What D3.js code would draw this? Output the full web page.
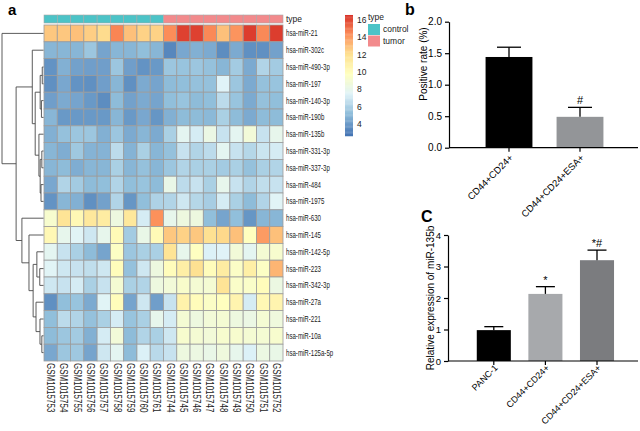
<!DOCTYPE html>
<html>
<head>
<meta charset="utf-8">
<script src="https://cdn.jsdelivr.net/npm/d3@7/dist/d3.min.js"></script>
<style>
  body { margin: 0; background: #fff; }
  svg text { font-family: "Liberation Sans", Arial, sans-serif; }
</style>
</head>
<body>
<div id="figure"></div>
<script>
// ---- panel a: heatmap data (rows in dendrogram order) ----
var genes = ["hsa-miR-21", "hsa-miR-302c", "hsa-miR-490-3p", "hsa-miR-197", "hsa-miR-140-3p",
  "hsa-miR-190b", "hsa-miR-135b", "hsa-miR-331-3p", "hsa-miR-337-3p", "hsa-miR-484",
  "hsa-miR-1975", "hsa-miR-630", "hsa-miR-145", "hsa-miR-142-5p", "hsa-miR-223",
  "hsa-miR-342-3p", "hsa-miR-27a", "hsa-miR-221", "hsa-miR-10a", "hsa-miR-125a-5p"];
var samples = ["GSM1015753", "GSM1015754", "GSM1015755", "GSM1015756", "GSM1015757",
  "GSM1015758", "GSM1015759", "GSM1015760", "GSM1015761", "GSM1015744", "GSM1015745",
  "GSM1015746", "GSM1015747", "GSM1015748", "GSM1015749", "GSM1015750", "GSM1015751", "GSM1015752"];
var sampleTypes = ["control", "control", "control", "control", "control", "control", "control", "control", "control",
  "tumor", "tumor", "tumor", "tumor", "tumor", "tumor", "tumor", "tumor", "tumor"];
var typeNames = ["control", "tumor"];
var legendTicks = [4, 6, 8, 10, 12, 14, 16];

// one row per gene, one value per sample
var expression = [
  [12.8, 12.8, 13.0, 12.6, 12.2, 14.6, 13.0, 12.5, 12.5, 14.4, 16.2, 16.2, 14.5, 13.0, 14.2, 16.3, 14.5, 16.3],
  [5.0, 5.0, 5.0, 5.6, 4.4, 5.0, 5.0, 5.3, 5.0, 3.4, 4.5, 4.8, 4.6, 3.6, 4.6, 3.7, 3.7, 4.3],
  [3.8, 4.8, 4.3, 4.2, 4.2, 5.6, 4.2, 3.8, 4.0, 5.6, 5.5, 5.6, 5.4, 5.0, 5.8, 4.6, 6.2, 5.8],
  [3.7, 4.5, 3.8, 3.7, 4.2, 5.0, 3.7, 4.6, 4.4, 5.2, 5.3, 5.4, 5.4, 7.5, 5.6, 4.6, 5.4, 5.5],
  [4.2, 4.6, 4.4, 4.0, 3.6, 5.2, 4.3, 4.6, 4.4, 5.3, 5.5, 5.2, 5.3, 6.5, 5.5, 4.6, 5.4, 5.3],
  [5.0, 4.0, 4.0, 4.0, 4.0, 5.0, 4.0, 4.5, 3.9, 4.8, 5.2, 5.2, 5.1, 6.0, 5.2, 4.6, 5.2, 5.2],
  [4.8, 5.4, 5.6, 5.6, 4.8, 5.6, 4.6, 5.0, 4.6, 6.0, 7.8, 7.2, 8.3, 6.8, 7.8, 8.8, 6.8, 8.0],
  [5.0, 4.7, 5.7, 4.9, 4.9, 6.5, 4.9, 6.0, 5.0, 5.4, 6.8, 6.2, 6.5, 7.8, 6.8, 6.3, 6.9, 7.2],
  [5.0, 5.2, 4.7, 5.0, 5.0, 6.0, 5.0, 5.4, 5.0, 5.6, 6.2, 6.0, 6.0, 5.8, 6.0, 5.4, 6.0, 6.2],
  [4.5, 6.2, 5.8, 5.2, 5.3, 6.2, 5.3, 5.5, 5.2, 8.2, 6.5, 6.8, 6.0, 8.0, 6.8, 6.2, 6.6, 6.8],
  [3.8, 5.0, 4.8, 3.7, 4.3, 6.2, 3.9, 5.3, 6.1, 6.2, 7.0, 6.3, 5.9, 7.2, 6.0, 5.2, 6.2, 7.6],
  [9.2, 11.8, 10.3, 11.5, 11.2, 8.5, 11.5, 7.2, 14.3, 8.0, 8.5, 8.5, 5.3, 4.4, 5.3, 3.9, 5.0, 5.0],
  [10.3, 8.0, 7.6, 7.0, 8.0, 10.2, 5.8, 8.2, 10.2, 12.8, 12.5, 12.8, 12.0, 12.3, 13.0, 9.8, 14.0, 13.0],
  [7.8, 6.8, 6.0, 5.2, 4.4, 9.6, 5.6, 6.0, 6.0, 11.8, 8.0, 9.7, 7.4, 7.5, 8.8, 7.8, 9.0, 9.2],
  [7.6, 7.0, 6.8, 6.6, 7.0, 10.0, 5.4, 7.0, 8.5, 10.0, 11.0, 12.0, 10.0, 11.2, 9.5, 11.0, 9.6, 13.3],
  [7.0, 6.8, 7.2, 6.0, 6.8, 9.0, 6.0, 6.2, 8.5, 8.8, 9.3, 9.0, 9.0, 11.8, 9.4, 9.4, 10.0, 8.4],
  [3.7, 5.3, 5.5, 4.6, 7.6, 10.0, 4.4, 7.0, 4.2, 6.8, 10.8, 10.0, 9.5, 9.8, 10.6, 7.2, 10.3, 10.6],
  [5.3, 6.5, 6.2, 5.4, 6.0, 7.2, 5.5, 6.0, 8.0, 7.2, 9.0, 8.5, 8.8, 9.0, 8.5, 8.3, 9.0, 8.6],
  [5.2, 5.6, 5.8, 4.8, 7.2, 8.8, 5.2, 6.2, 6.0, 7.0, 9.2, 9.0, 8.8, 9.2, 9.2, 9.0, 9.0, 9.2],
  [4.5, 5.6, 5.7, 4.4, 7.0, 7.8, 5.2, 7.4, 6.4, 6.8, 8.5, 8.4, 8.2, 8.6, 8.0, 7.4, 8.4, 8.2]
];

// row clustering: h = merge height, c = children (leaves are gene names)
var rowTree = {h: 10, c: [
  "hsa-miR-21",
  {h: 6.6, c: [
    {h: 2.7, c: [
      "hsa-miR-302c",
      {h: 2.0, c: [
        {h: 0.8, c: [
          {h: 0.3, c: ["hsa-miR-490-3p", "hsa-miR-197"]},
          {h: 0.5, c: ["hsa-miR-140-3p", "hsa-miR-190b"]}
        ]},
        {h: 1.1, c: [
          "hsa-miR-135b",
          {h: 0.8, c: [
            {h: 0.4, c: ["hsa-miR-331-3p", "hsa-miR-337-3p"]},
            {h: 0.6, c: ["hsa-miR-484", "hsa-miR-1975"]}
          ]}
        ]}
      ]}
    ]},
    {h: 5.2, c: [
      "hsa-miR-630",
      {h: 3.5, c: [
        "hsa-miR-145",
        {h: 2.5, c: [
          {h: 1.6, c: ["hsa-miR-142-5p", {h: 0.9, c: ["hsa-miR-223", "hsa-miR-342-3p"]}]},
          {h: 1.8, c: ["hsa-miR-27a",
            {h: 0.85, c: ["hsa-miR-221", {h: 0.4, c: ["hsa-miR-10a", "hsa-miR-125a-5p"]}]}]}
        ]}
      ]}
    ]}
  ]}
]};

// ---- panel b ----
var bGroups = ["CD44+CD24+", "CD44+CD24+ESA+"];
var bMeans = [1.44, 0.49];
var bErrors = [0.155, 0.15];
var bMarks = ["", "#"];
var bTicks = [0, 0.5, 1.0, 1.5, 2.0];

// ---- panel c ----
var cGroups = ["PANC-1", "CD44+CD24+", "CD44+CD24+ESA+"];
var cMeans = [0.98, 2.13, 3.2];
var cErrors = [0.11, 0.23, 0.32];
var cMarks = ["", "*", "*#"];
var cTicks = [0, 1, 2, 3, 4];

var svg = d3.select("#figure").append("svg")
  .attr("width", 640)
  .attr("height", 431);

// ================= heatmap =================
var hm = {left: 44, right: 283, top: 25, bottom: 361, annTop: 15, annBottom: 23};
var palette = ["#4575B4", "#91BFDB", "#E0F3F8", "#FFFFBF", "#FEE090", "#FC8D59", "#D73027"];
var color = d3.scaleLinear()
  .domain([2.8, 5.3, 7.5, 9.8, 12.1, 14.4, 16.6])
  .range(palette)
  .clamp(true);
var typeColor = d3.scaleOrdinal().domain(typeNames).range(["#4CC3C7", "#F28A8C"]);

var xHm = d3.scaleBand().domain(samples).range([hm.left, hm.right]);
var yHm = d3.scaleBand().domain(genes).range([hm.top, hm.bottom]);

var cells = [];
genes.forEach(function (g, i) {
  samples.forEach(function (s, j) {
    cells.push({gene: g, sample: s, value: expression[i][j]});
  });
});

svg.append("g").selectAll("rect")
  .data(cells)
  .join("rect")
  .attr("x", d => xHm(d.sample))
  .attr("y", d => yHm(d.gene))
  .attr("width", xHm.bandwidth())
  .attr("height", yHm.bandwidth())
  .attr("fill", d => color(d.value))
  .attr("stroke", "#9c9c9c")
  .attr("stroke-width", 0.8);

// type annotation bar
svg.append("g").selectAll("rect")
  .data(samples)
  .join("rect")
  .attr("x", d => xHm(d))
  .attr("y", hm.annTop)
  .attr("width", xHm.bandwidth())
  .attr("height", hm.annBottom - hm.annTop)
  .attr("fill", (d, i) => typeColor(sampleTypes[i]))
  .attr("stroke", "#a8a8a8")
  .attr("stroke-width", 0.6);

svg.append("text")
  .attr("x", 286)
  .attr("y", 19)
  .attr("dy", "0.35em")
  .attr("font-size", "8.5px")
  .attr("fill", "#222")
  .text("type");

// row labels (narrow type)
var rowLab = svg.append("g").attr("transform", "translate(286,0) scale(0.72,1)");
rowLab.selectAll("text")
  .data(genes)
  .join("text")
  .attr("x", 0)
  .attr("y", d => yHm(d) + yHm.bandwidth() / 2)
  .attr("dy", "0.35em")
  .attr("font-size", "8.5px")
  .attr("fill", "#222")
  .text(d => d);

// column labels, rotated
svg.append("g").selectAll("text")
  .data(samples)
  .join("text")
  .attr("transform", d => `translate(${xHm(d) + xHm.bandwidth() / 2},363) rotate(90) scale(0.8,1)`)
  .attr("dy", "0.35em")
  .attr("font-size", "10px")
  .attr("fill", "#222")
  .text(d => d);

// dendrogram
var root = d3.hierarchy(rowTree, d => d.c);
var dendX = d3.scaleLinear().domain([0, 10]).range([43.5, 2]);
root.eachAfter(function (n) {
  if (!n.children) {
    n.py = yHm(n.data) + yHm.bandwidth() / 2;
    n.px = dendX(0);
  } else {
    n.py = d3.mean(n.children, c => c.py);
    n.px = dendX(n.data.h);
  }
});
var dend = svg.append("g")
  .attr("stroke", "#4a4a4a")
  .attr("stroke-width", 0.9)
  .attr("fill", "none");
root.descendants().filter(n => n.children).forEach(function (n) {
  dend.append("line")
    .attr("x1", n.px).attr("x2", n.px)
    .attr("y1", d3.min(n.children, c => c.py))
    .attr("y2", d3.max(n.children, c => c.py));
  n.children.forEach(function (c) {
    dend.append("line")
      .attr("x1", n.px).attr("x2", c.px)
      .attr("y1", c.py).attr("y2", c.py);
  });
});

// colour legend
var legY = d3.scaleLinear().domain([4, 16]).range([124, 20]);
var legSteps = d3.range(100).map(i => 2.62 + i * (16.58 - 2.62) / 100);
var legStep = (16.58 - 2.62) / 100;
svg.append("g").selectAll("rect")
  .data(legSteps)
  .join("rect")
  .attr("x", 345)
  .attr("y", d => legY(d + legStep))
  .attr("width", 8)
  .attr("height", d => legY(d) - legY(d + legStep) + 0.3)
  .attr("fill", d => color(d + legStep / 2));
svg.append("g").selectAll("text")
  .data(legendTicks)
  .join("text")
  .attr("x", 357)
  .attr("y", d => legY(d))
  .attr("dy", "0.35em")
  .attr("font-size", "8.5px")
  .attr("fill", "#222")
  .text(d => d);

// type legend
svg.append("text")
  .attr("x", 368).attr("y", 17).attr("dy", "0.35em")
  .attr("font-size", "8.5px").attr("fill", "#222")
  .text("type");
var typeLeg = svg.append("g").selectAll("g")
  .data(typeNames)
  .join("g")
  .attr("transform", (d, i) => `translate(368,${24 + i * 11.5})`);
typeLeg.append("rect")
  .attr("width", 12).attr("height", 11)
  .attr("fill", d => typeColor(d));
typeLeg.append("text")
  .attr("x", 15).attr("y", 5.5).attr("dy", "0.35em")
  .attr("font-size", "8.5px").attr("fill", "#222")
  .text(d => d);

svg.append("text")
  .attr("x", 8).attr("y", 15)
  .attr("font-size", "15px").attr("font-weight", "bold")
  .text("a");

// ================= bar panels =================
function barPanel(groups, means, errors, marks, fills, o) {
  var x = d3.scaleBand().domain(groups).range([o.x0, o.x1]).paddingInner(0.34).paddingOuter(0.17);
  var y = d3.scaleLinear().domain([0, o.yMax]).range([o.yBottom, o.yTop]);
  var g = svg.append("g");

  g.selectAll("rect")
    .data(groups)
    .join("rect")
    .attr("x", d => x(d))
    .attr("width", x.bandwidth())
    .attr("y", (d, i) => y(means[i]))
    .attr("height", (d, i) => y(0) - y(means[i]))
    .attr("fill", (d, i) => fills[i]);

  // error bars (upper only)
  var capW = o.capW;
  groups.forEach(function (d, i) {
    var cx = x(d) + x.bandwidth() / 2;
    var top = y(means[i] + errors[i]);
    g.append("line").attr("x1", cx).attr("x2", cx)
      .attr("y1", y(means[i])).attr("y2", top)
      .attr("stroke", "#000").attr("stroke-width", 1.3);
    g.append("line").attr("x1", cx - capW / 2).attr("x2", cx + capW / 2)
      .attr("y1", top).attr("y2", top)
      .attr("stroke", "#000").attr("stroke-width", 1.3);
    if (marks[i]) {
      g.append("text")
        .attr("x", cx).attr("y", top - 3)
        .attr("text-anchor", "middle")
        .attr("font-size", "11px")
        .text(marks[i]);
    }
  });

  var yAxis = g.append("g")
    .attr("transform", `translate(${o.axisX},0)`)
    .call(d3.axisLeft(y).tickValues(o.ticks).tickFormat(o.fmt).tickSize(4).tickSizeOuter(0));
  yAxis.selectAll("text").attr("font-size", o.tickFont).attr("fill", "#000");

  var xAxis = g.append("g")
    .attr("transform", `translate(0,${y(0)})`)
    .call(d3.axisBottom(x).tickSize(4).tickSizeOuter(0));
  xAxis.select(".domain").attr("d", `M${o.axisX},0H${o.axisEnd}`);
  xAxis.selectAll("text")
    .attr("x", 0).attr("y", 0).attr("dy", "0.7em")
    .attr("transform", `translate(0,${o.labelDrop}) rotate(-45)`)
    .attr("text-anchor", "end")
    .attr("font-size", o.catFont)
    .attr("fill", "#000");

  g.selectAll(".domain, .tick line").attr("stroke", "#000").attr("stroke-width", 1.2);

  g.append("text")
    .attr("transform", `translate(${o.labelX},${o.labelY}) rotate(-90)`)
    .attr("text-anchor", "middle")
    .attr("font-size", "10px")
    .text(o.label);
}

barPanel(bGroups, bMeans, bErrors, bMarks, ["#000000", "#939598"], {
  x0: 473.5, x1: 615.5, yBottom: 147.7, yTop: 21.7, yMax: 2,
  axisX: 449, axisEnd: 638, ticks: bTicks, fmt: d3.format(".1f"), tickFont: "10px",
  catFont: "9.5px", labelDrop: 6,
  capW: 24, labelX: 427, labelY: 64, label: "Positive rate (%)"
});

barPanel(cGroups, cMeans, cErrors, cMarks, ["#000000", "#A7A9AC", "#7B7C7F"], {
  x0: 468, x1: 622.8, yBottom: 361, yTop: 235, yMax: 4,
  axisX: 448, axisEnd: 638, ticks: cTicks, fmt: d3.format("d"), tickFont: "9.5px",
  catFont: "9px", labelDrop: 3,
  capW: 19, labelX: 434, labelY: 298, label: "Relative expression of miR-135b"
});

svg.append("text")
  .attr("x", 405).attr("y", 15)
  .attr("font-size", "16px").attr("font-weight", "bold")
  .text("b");
svg.append("text")
  .attr("x", 421).attr("y", 222)
  .attr("font-size", "16px").attr("font-weight", "bold")
  .text("C");
</script>
</body>
</html>
